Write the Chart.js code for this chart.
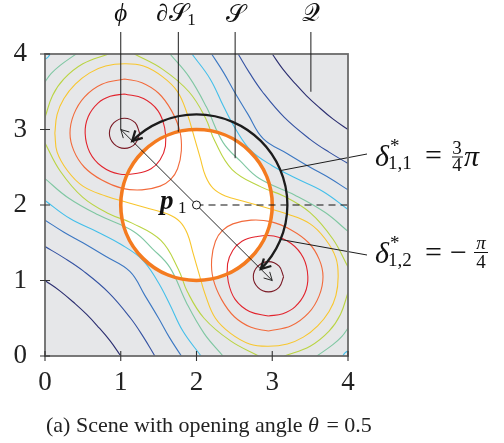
<!DOCTYPE html>
<html>
<head>
<meta charset="utf-8">
<script src="https://cdn.jsdelivr.net/npm/chart.js@4.4.1/dist/chart.umd.min.js"></script>
<style>
  html, body { margin: 0; padding: 0; background: #fff; }
</style>
</head>
<body>
<canvas id="scene" width="504" height="443"></canvas>
<script>
// axes
const tickValues = [0, 1, 2, 3, 4];

// scene geometry (data units)
const diskCenter = [2, 2];
const diskRadius = 1;
const sweepRadius = 1.2;
const sweepAngles = [-Math.PI / 4, 3 * Math.PI / 4];   // delta*_{1,2}, delta*_{1,1}
const leaderAngles = [0.39, -0.39];
const peakA = [1, 3];
const peakB = [3, 1];
const pointerX = [1.0, 1.76, 2.51, 3.51];
const pointerEndY = [3.0, 2.97, 2.62, 3.5];

// contour lines, lowest level first
const navyLowerLeft = [[0,1.0],[0.2,0.86],[0.4,0.69],[0.55,0.55],[0.69,0.4],[0.86,0.2],[1.0,0]];
const navyUpperRight = [[4,3.0],[3.8,3.14],[3.6,3.31],[3.45,3.45],[3.31,3.6],[3.14,3.8],[3.0,4]];

const blueLowerLeft = [[0,1.45],[0.25,1.30],[0.5,1.13],[0.84,0.84],[1.13,0.5],[1.30,0.25],[1.45,0]];
const blueUpperRight = [[4,2.55],[3.75,2.70],[3.5,2.87],[3.16,3.16],[2.87,3.5],[2.70,3.75],[2.55,4]];

const lightBlueLowerLeft = [[0,1.80],[0.25,1.64],[0.5,1.50],[0.8,1.32],[1.12,1.12],[1.32,0.8],[1.50,0.5],[1.64,0.25],[1.80,0]];
const lightBlueUpperRight = [[4,2.20],[3.75,2.36],[3.5,2.50],[3.2,2.68],[2.88,2.88],[2.68,3.2],[2.50,3.5],[2.36,3.75],[2.20,4]];

const cyanLowerLeft = [[0,2.06],[0.33,1.82],[0.7,1.64],[1.0,1.48],[1.28,1.28],[1.48,1.0],[1.64,0.7],[1.82,0.33],[2.06,0]];
const cyanUpperRight = [[4,1.94],[3.67,2.18],[3.3,2.36],[3.0,2.52],[2.72,2.72],[2.52,3.0],[2.36,3.3],[2.18,3.67],[1.94,4]];
const cyanTopLeft = [[0,3.93],[0.04,3.96],[0.07,4]];
const cyanBottomRight = [[3.93,0],[3.96,0.04],[4,0.07]];

const greenLowerLeft = [[0,2.35],[0.3,2.10],[0.7,1.87],[1.17,1.65],[1.42,1.42],[1.65,1.17],[1.87,0.7],[2.10,0.3],[2.35,0]];
const greenUpperRight = [[4,1.65],[3.7,1.90],[3.3,2.13],[2.83,2.35],[2.58,2.58],[2.35,2.83],[2.13,3.3],[1.90,3.7],[1.65,4]];
const greenTopLeft = [[0,3.63],[0.08,3.74],[0.2,3.85],[0.41,4]];
const greenBottomRight = [[4,0.37],[3.92,0.26],[3.8,0.15],[3.59,0]];

const limeLowerLeft = [[0,2.82],[0.2,2.45],[0.5,2.10],[0.85,1.88],[1.15,1.76],[1.53,1.53],[1.76,1.15],[1.88,0.85],[2.10,0.5],[2.45,0.2],[2.82,0]];
const limeUpperRight = [[4,1.18],[3.8,1.55],[3.5,1.90],[3.15,2.12],[2.85,2.24],[2.47,2.47],[2.24,2.85],[2.12,3.15],[1.90,3.5],[1.55,3.8],[1.18,4]];
const limeTopLeft = [[0,3.16],[0.1,3.45],[0.25,3.67],[0.5,3.87],[0.84,4]];
const limeBottomRight = [[4,0.84],[3.9,0.55],[3.75,0.33],[3.5,0.13],[3.16,0]];

const yellowLoop = [
  [0.13,2.95],[0.16,3.20],[0.25,3.41],[0.40,3.60],[0.59,3.75],[0.80,3.84],[1.05,3.87],
  [1.30,3.84],[1.55,3.70],[1.75,3.50],[1.88,3.20],[1.97,2.90],[2.05,2.62],[2.12,2.38],[2.22,2.22],
  [2.38,2.12],[2.62,2.05],[2.90,1.97],[3.20,1.88],[3.50,1.75],[3.70,1.55],[3.84,1.30],[3.87,1.05],
  [3.84,0.80],[3.75,0.59],[3.60,0.40],[3.41,0.25],[3.20,0.16],[2.95,0.13],
  [2.70,0.16],[2.45,0.30],[2.25,0.50],[2.12,0.80],[2.03,1.10],[1.95,1.38],[1.88,1.62],[1.78,1.78],
  [1.62,1.88],[1.38,1.95],[1.10,2.03],[0.80,2.12],[0.50,2.25],[0.30,2.45],[0.16,2.70],[0.13,2.95]
];

const orangeLoopA = [[1.05,3.67],[1.28,3.62],[1.50,3.48],[1.67,3.25],[1.78,2.98],[1.80,2.72],[1.75,2.48],[1.66,2.34],[1.52,2.25],[1.28,2.20],[1.02,2.22],[0.75,2.33],[0.52,2.50],[0.38,2.72],[0.33,2.95],[0.38,3.20],[0.52,3.43],[0.75,3.60],[1.05,3.67]];
const orangeLoopB = [[2.95,0.33],[2.72,0.38],[2.50,0.52],[2.33,0.75],[2.22,1.02],[2.20,1.28],[2.25,1.52],[2.34,1.66],[2.48,1.75],[2.72,1.80],[2.98,1.78],[3.25,1.67],[3.48,1.50],[3.62,1.28],[3.67,1.05],[3.62,0.80],[3.48,0.57],[3.25,0.40],[2.95,0.33]];

const redLoopA = [[1.05,3.47],[1.30,3.41],[1.49,3.25],[1.58,3.02],[1.59,2.78],[1.52,2.60],[1.40,2.48],[1.22,2.42],[0.98,2.41],[0.75,2.51],[0.59,2.70],[0.53,2.95],[0.57,3.17],[0.70,3.35],[0.86,3.44],[1.05,3.47]];
const redLoopB = [[2.95,0.53],[2.70,0.59],[2.51,0.75],[2.42,0.98],[2.41,1.22],[2.48,1.40],[2.60,1.52],[2.78,1.58],[3.02,1.59],[3.25,1.49],[3.41,1.30],[3.47,1.05],[3.43,0.83],[3.30,0.65],[3.14,0.56],[2.95,0.53]];

const darkRedLoopA = [[1.25,2.95],[1.19,3.09],[1.05,3.15],[0.91,3.09],[0.85,2.95],[0.91,2.81],[1.05,2.75],[1.19,2.81],[1.25,2.95]];
const darkRedLoopB = [[3.15,1.05],[3.09,1.19],[2.95,1.25],[2.81,1.19],[2.75,1.05],[2.81,0.91],[2.95,0.85],[3.09,0.91],[3.15,1.05]];

const levels = [
  { color: '#2b2e70', lines: [navyLowerLeft, navyUpperRight] },
  { color: '#3452a2', lines: [blueLowerLeft, blueUpperRight] },
  { color: '#3b77c2', lines: [lightBlueLowerLeft, lightBlueUpperRight] },
  { color: '#43bfea', lines: [cyanLowerLeft, cyanUpperRight, cyanTopLeft, cyanBottomRight] },
  { color: '#7fc7a2', lines: [greenLowerLeft, greenUpperRight, greenTopLeft, greenBottomRight] },
  { color: '#bad443', lines: [limeLowerLeft, limeUpperRight, limeTopLeft, limeBottomRight] },
  { color: '#f8c62d', lines: [yellowLoop] },
  { color: '#f26a3b', lines: [orangeLoopA, orangeLoopB] },
  { color: '#e2242d', lines: [redLoopA, redLoopB] },
  { color: '#7b1b26', lines: [darkRedLoopA, darkRedLoopB] }
];

const datasets = [];
levels.forEach(level => {
  level.lines.forEach(line => {
    datasets.push({
      data: line.map(p => ({ x: p[0], y: p[1] })),
      showLine: true,
      borderColor: level.color,
      borderWidth: 1.1,
      pointRadius: 0,
      tension: 0.4,
      fill: false
    });
  });
});

const SERIF = "'Liberation Serif', 'DejaVu Serif', serif";

function chevron(ctx, tx, ty, ang, len, spread) {
  ctx.beginPath();
  ctx.moveTo(tx - len * Math.cos(ang - spread), ty - len * Math.sin(ang - spread));
  ctx.lineTo(tx, ty);
  ctx.lineTo(tx - len * Math.cos(ang + spread), ty - len * Math.sin(ang + spread));
  ctx.stroke();
}

function txt(ctx, s, x, y, size, style, align) {
  ctx.font = (style || '') + ' ' + size + 'px ' + SERIF;
  ctx.textAlign = align || 'left';
  ctx.textBaseline = 'alphabetic';
  ctx.fillText(s, x, y);
}

const scenePlugin = {
  id: 'scene',
  beforeDatasetsDraw(chart) {
    const { ctx, chartArea: a, scales: { x, y } } = chart;
    ctx.save();
    ctx.fillStyle = '#e6e7e9';
    ctx.fillRect(a.left, a.top, a.right - a.left, a.bottom - a.top);
    // region S_1 (white disk)
    const cx = x.getPixelForValue(diskCenter[0]), cy = y.getPixelForValue(diskCenter[1]);
    const rx = x.getPixelForValue(diskCenter[0] + diskRadius) - cx;
    const ry = cy - y.getPixelForValue(diskCenter[1] + diskRadius);
    ctx.beginPath();
    ctx.ellipse(cx, cy, rx, ry, 0, 0, 2 * Math.PI);
    ctx.fillStyle = '#ffffff';
    ctx.fill();
    ctx.restore();
  },
  afterDatasetsDraw(chart) {
    const { ctx, chartArea: a, scales: { x, y } } = chart;
    const cx = x.getPixelForValue(diskCenter[0]), cy = y.getPixelForValue(diskCenter[1]);
    const rx = x.getPixelForValue(diskCenter[0] + diskRadius) - cx;
    const ry = cy - y.getPixelForValue(diskCenter[1] + diskRadius);
    ctx.save();

    // boundary dS_1
    ctx.beginPath();
    ctx.ellipse(cx, cy, rx, ry, 0, 0, 2 * Math.PI);
    ctx.strokeStyle = '#f47b20';
    ctx.lineWidth = 3.6;
    ctx.stroke();

    // dashed reference direction
    ctx.beginPath();
    ctx.setLineDash([7, 5]);
    ctx.moveTo(cx, cy);
    ctx.lineTo(x.getPixelForValue(4), cy);
    ctx.strokeStyle = '#111';
    ctx.lineWidth = 1.2;
    ctx.stroke();
    ctx.setLineDash([]);

    // sweep arc with both optimal angles
    const Rx = x.getPixelForValue(diskCenter[0] + sweepRadius) - cx;
    const Ry = cy - y.getPixelForValue(diskCenter[1] + sweepRadius);
    ctx.beginPath();
    ctx.ellipse(cx, cy, Rx, Ry, 0, -sweepAngles[0], -sweepAngles[1], true);
    ctx.strokeStyle = '#1c1c1c';
    ctx.lineWidth = 2.3;
    ctx.stroke();
    const t1 = sweepAngles[1], t0 = sweepAngles[0];
    chevron(ctx, cx + Rx * Math.cos(t1), cy - Ry * Math.sin(t1),
      Math.atan2(-Ry * Math.cos(t1), -Rx * Math.sin(t1)), 11, 0.5);
    chevron(ctx, cx + Rx * Math.cos(t0), cy - Ry * Math.sin(t0),
      Math.atan2(Ry * Math.cos(t0), Rx * Math.sin(t0)), 11, 0.5);

    // leaders to the angle labels
    const leaderEnds = [[367, 154], [367, 255]];
    ctx.lineWidth = 1;
    ctx.strokeStyle = '#1c1c1c';
    leaderAngles.forEach((t, i) => {
      ctx.beginPath();
      ctx.moveTo(cx + Rx * Math.cos(t), cy - Ry * Math.sin(t));
      ctx.lineTo(leaderEnds[i][0], leaderEnds[i][1]);
      ctx.stroke();
    });

    // thin double arrow between the two maxima
    const ax = x.getPixelForValue(peakA[0]), ay = y.getPixelForValue(peakA[1]);
    const bx = x.getPixelForValue(peakB[0]), by = y.getPixelForValue(peakB[1]);
    ctx.beginPath();
    ctx.moveTo(ax, ay);
    ctx.lineTo(bx, by);
    ctx.lineWidth = 0.9;
    ctx.strokeStyle = '#111';
    ctx.stroke();
    chevron(ctx, ax, ay, Math.atan2(ay - by, ax - bx), 9, 0.5);
    chevron(ctx, bx, by, Math.atan2(by - ay, bx - ax), 9, 0.5);

    // p_1 marker
    ctx.beginPath();
    ctx.arc(cx, cy, 4, 0, 2 * Math.PI);
    ctx.fillStyle = '#fff';
    ctx.fill();
    ctx.lineWidth = 1;
    ctx.stroke();
    ctx.fillStyle = '#111';
    txt(ctx, 'p', 160, 209, 27, 'italic bold');
    txt(ctx, '1', 178, 213, 17, '');

    // frame and ticks
    ctx.strokeStyle = '#6b6b6b';
    ctx.lineWidth = 1.8;
    ctx.strokeRect(a.left, a.top, a.right - a.left, a.bottom - a.top);
    ctx.strokeStyle = '#333';
    ctx.lineWidth = 1.1;
    tickValues.forEach(v => {
      const px = x.getPixelForValue(v), py = y.getPixelForValue(v);
      ctx.beginPath();
      ctx.moveTo(px, a.bottom - 5); ctx.lineTo(px, a.bottom + 5);
      ctx.moveTo(a.left - 5, py); ctx.lineTo(a.left + 5, py);
      ctx.stroke();
    });

    // pointers to the named objects
    ctx.strokeStyle = '#1c1c1c';
    ctx.lineWidth = 1;
    pointerX.forEach((v, i) => {
      const px = x.getPixelForValue(v);
      ctx.beginPath();
      ctx.moveTo(px, 32);
      ctx.lineTo(px, y.getPixelForValue(pointerEndY[i]));
      ctx.stroke();
    });
    ctx.fillStyle = '#111';
    const p0 = x.getPixelForValue(pointerX[0]);
    const p1 = x.getPixelForValue(pointerX[1]);
    const p2 = x.getPixelForValue(pointerX[2]);
    const p3 = x.getPixelForValue(pointerX[3]);
    txt(ctx, 'ϕ', p0, 21, 25, 'italic', 'center');
    txt(ctx, '∂', p1 - 22, 21, 24, '');
    txt(ctx, '𝒮', p1 - 9, 21, 25, '');
    txt(ctx, '1', p1 + 9, 25, 17, '');
    txt(ctx, '𝒮', p2, 22, 25, '', 'center');
    txt(ctx, '𝒬', p3, 21, 25, '', 'center');

    // angle labels
    txt(ctx, 'δ', 375, 166, 30, 'italic');
    txt(ctx, '*', 390, 152, 19, '');
    txt(ctx, '1,1', 388, 169, 19, '');
    txt(ctx, '=', 425, 165, 30, '');
    txt(ctx, '3', 457, 154, 19, '', 'center');
    txt(ctx, '4', 457, 171, 19, '', 'center');
    ctx.fillRect(452, 156.5, 11, 1);
    txt(ctx, 'π', 464, 166, 30, 'italic');

    txt(ctx, 'δ', 375, 263, 30, 'italic');
    txt(ctx, '*', 390, 249, 19, '');
    txt(ctx, '1,2', 388, 266, 19, '');
    txt(ctx, '=', 425, 262, 30, '');
    txt(ctx, '−', 450, 262, 30, '');
    txt(ctx, 'π', 481, 249, 19, 'italic', 'center');
    txt(ctx, '4', 481, 268, 19, '', 'center');
    ctx.fillRect(474, 252, 14, 1);

    // caption
    ctx.fillStyle = '#222';
    ctx.font = '22px ' + SERIF;
    const cap = '(a) Scene with opening angle ';
    txt(ctx, cap, 46, 432, 22, '');
    const w = ctx.measureText(cap).width;
    txt(ctx, 'θ', 46 + w, 432, 22, 'italic');
    ctx.font = 'italic 22px ' + SERIF;
    const wt = ctx.measureText('θ').width;
    txt(ctx, ' = 0.5', 46 + w + wt + 2, 432, 22, '');

    ctx.restore();
  }
};

new Chart(document.getElementById('scene'), {
  type: 'scatter',
  data: { datasets: datasets },
  options: {
    responsive: false,
    animation: false,
    devicePixelRatio: 1,
    layout: { padding: { left: 0, right: 156, top: 54, bottom: 47 } },
    plugins: { legend: { display: false }, tooltip: { enabled: false } },
    scales: {
      x: {
        type: 'linear', min: 0, max: 4,
        afterFit: s => { s.height = 40; },
        grid: { display: false, drawTicks: false },
        border: { display: false },
        ticks: { stepSize: 1, padding: 11, color: '#222', font: { family: SERIF, size: 27 } }
      },
      y: {
        type: 'linear', min: 0, max: 4,
        afterFit: s => { s.width = 45; },
        grid: { display: false, drawTicks: false },
        border: { display: false },
        ticks: { stepSize: 1, padding: 18, color: '#222', font: { family: SERIF, size: 27 } }
      }
    }
  },
  plugins: [scenePlugin]
});
</script>
</body>
</html>
